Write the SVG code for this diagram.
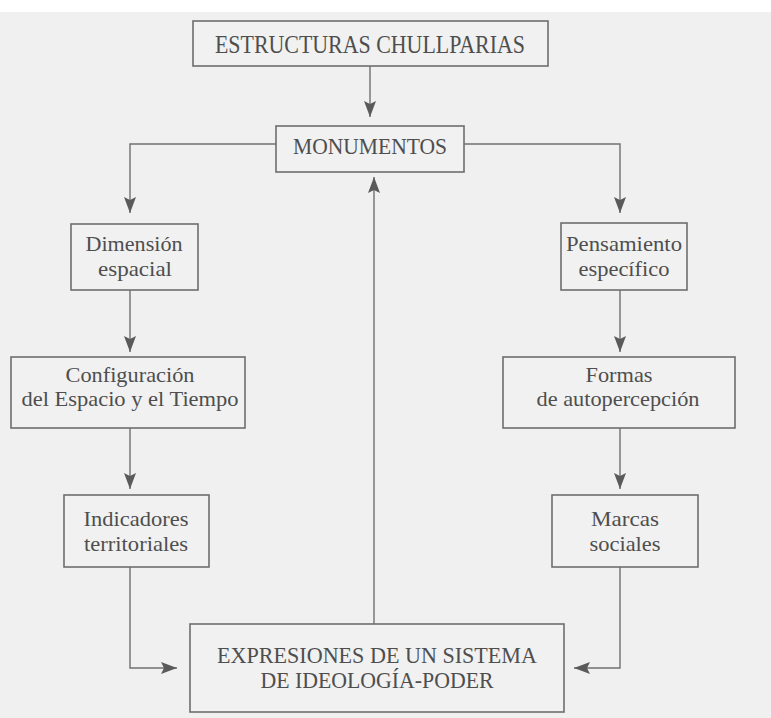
<svg xmlns="http://www.w3.org/2000/svg" width="771" height="718" viewBox="0 0 771 718">
  <style>
    .box { fill: #f1f1f1; stroke: #6e6e6e; stroke-width: 1.6; }
    text { font-family: 'Liberation Serif', 'Times New Roman', serif; fill: #4e4e4e; text-anchor: middle; }
    .caps { font-size: 23px; }
    .big { font-size: 25px; }
    .low { font-size: 21px; }
    .conn { fill: none; stroke: #707070; stroke-width: 1.4; }
  </style>
  <defs>
    <marker id="arr" viewBox="0 0 16 12" refX="16" refY="6" markerWidth="16" markerHeight="12" markerUnits="userSpaceOnUse" orient="auto">
      <path d="M0,0 L16,6 L0,12 L3,6 Z" fill="#5a5a5a"/>
    </marker>
  </defs>
  <rect x="0" y="0" width="771" height="718" fill="#ffffff"/>
  <rect x="0" y="12" width="771" height="706" fill="#f0f0f0"/>

  <g id="connectors">
    <path class="conn" d="M370,66 L370,117" marker-end="url(#arr)"/>
    <path class="conn" d="M276,144 L130,144 L130,213" marker-end="url(#arr)"/>
    <path class="conn" d="M464,144 L620,144 L620,213" marker-end="url(#arr)"/>
    <path class="conn" d="M130,290 L130,352" marker-end="url(#arr)"/>
    <path class="conn" d="M620,290 L620,352" marker-end="url(#arr)"/>
    <path class="conn" d="M130,428 L130,489" marker-end="url(#arr)"/>
    <path class="conn" d="M620,428 L620,489" marker-end="url(#arr)"/>
    <path class="conn" d="M130,567 L130,668 L177,668" marker-end="url(#arr)"/>
    <path class="conn" d="M620,567 L620,668 L574,668" marker-end="url(#arr)"/>
    <path class="conn" d="M374,624 L374,177" marker-end="url(#arr)"/>
  </g>

  <g id="estructuras" font-family="Liberation Serif, serif">
    <rect class="box" x="193" y="21" width="355" height="45"/>
    <text class="big" x="370" y="53" textLength="310" lengthAdjust="spacingAndGlyphs">ESTRUCTURAS CHULLPARIAS</text>
  </g>
  <g id="monumentos" font-family="Liberation Serif, serif">
    <rect class="box" x="276" y="126" width="188" height="46"/>
    <text class="caps" x="370" y="154" textLength="154" lengthAdjust="spacingAndGlyphs">MONUMENTOS</text>
  </g>
  <g id="dimension" font-family="Liberation Serif, serif">
    <rect class="box" x="71" y="224" width="127" height="66"/>
    <text class="low" x="134" y="251" textLength="97" lengthAdjust="spacingAndGlyphs">Dimensión</text>
    <text class="low" x="135" y="276" textLength="74" lengthAdjust="spacingAndGlyphs">espacial</text>
  </g>
  <g id="pensamiento" font-family="Liberation Serif, serif">
    <rect class="box" x="561" y="223" width="126" height="67"/>
    <text class="low" x="624" y="251" textLength="116" lengthAdjust="spacingAndGlyphs">Pensamiento</text>
    <text class="low" x="624" y="276" textLength="91" lengthAdjust="spacingAndGlyphs">específico</text>
  </g>
  <g id="configuracion" font-family="Liberation Serif, serif">
    <rect class="box" x="11" y="357" width="234" height="71"/>
    <text class="low" x="130" y="382" textLength="129" lengthAdjust="spacingAndGlyphs">Configuración</text>
    <text class="low" x="130" y="406" textLength="217" lengthAdjust="spacingAndGlyphs">del Espacio y el Tiempo</text>
  </g>
  <g id="formas" font-family="Liberation Serif, serif">
    <rect class="box" x="503" y="357" width="232" height="71"/>
    <text class="low" x="619" y="382" textLength="67" lengthAdjust="spacingAndGlyphs">Formas</text>
    <text class="low" x="618" y="406" textLength="163" lengthAdjust="spacingAndGlyphs">de autopercepción</text>
  </g>
  <g id="indicadores" font-family="Liberation Serif, serif">
    <rect class="box" x="64" y="495" width="145" height="72"/>
    <text class="low" x="136" y="526" textLength="105" lengthAdjust="spacingAndGlyphs">Indicadores</text>
    <text class="low" x="136" y="551" textLength="104" lengthAdjust="spacingAndGlyphs">territoriales</text>
  </g>
  <g id="marcas" font-family="Liberation Serif, serif">
    <rect class="box" x="552" y="495" width="146" height="72"/>
    <text class="low" x="625" y="526" textLength="68" lengthAdjust="spacingAndGlyphs">Marcas</text>
    <text class="low" x="625" y="551" textLength="71" lengthAdjust="spacingAndGlyphs">sociales</text>
  </g>
  <g id="expresiones" font-family="Liberation Serif, serif">
    <rect class="box" x="190" y="624" width="374" height="88"/>
    <text class="caps" x="377" y="663" textLength="320" lengthAdjust="spacingAndGlyphs">EXPRESIONES DE UN SISTEMA</text>
    <text class="caps" x="377" y="688" textLength="233" lengthAdjust="spacingAndGlyphs">DE IDEOLOGÍA-PODER</text>
  </g>
</svg>
